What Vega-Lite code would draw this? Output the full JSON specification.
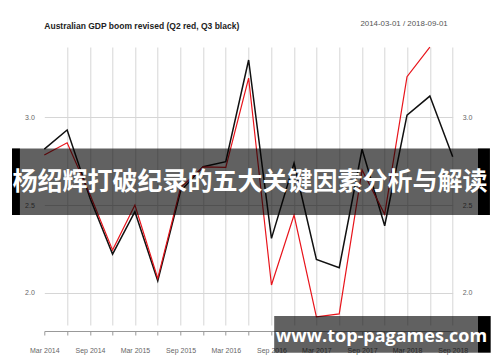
{
  "$schema": "https://vega.github.io/schema/vega-lite/v6.json",
  "width": 408.4,
  "height": 278,
  "autosize": {"type": "none"},
  "padding": {"left": 44.3, "top": 47, "right": 47.3, "bottom": 37},
  "background": "white",
  "config": {"view": {"stroke": null}, "font": "Liberation Sans"},
  "title": {
    "text": "Australian GDP boom revised (Q2 red, Q3 black)",
    "anchor": "start",
    "frame": "group",
    "fontSize": 8.5,
    "fontWeight": "bold",
    "color": "#222222",
    "offset": -10.5,
    "font": "Liberation Sans"
  },
  "data": {
    "values": [
      {"date": "2014-03-01", "q2": 2.785, "q3": 2.819},
      {"date": "2014-06-01", "q2": 2.855, "q3": 2.928},
      {"date": "2014-09-01", "q2": 2.56, "q3": 2.54},
      {"date": "2014-12-01", "q2": 2.243, "q3": 2.22},
      {"date": "2015-03-01", "q2": 2.5, "q3": 2.462},
      {"date": "2015-06-01", "q2": 2.082, "q3": 2.068},
      {"date": "2015-09-01", "q2": 2.6, "q3": 2.58},
      {"date": "2015-12-01", "q2": 2.718, "q3": 2.718},
      {"date": "2016-03-01", "q2": 2.715, "q3": 2.747},
      {"date": "2016-06-01", "q2": 3.224, "q3": 3.327},
      {"date": "2016-09-01", "q2": 2.044, "q3": 2.31},
      {"date": "2016-12-01", "q2": 2.443, "q3": 2.738},
      {"date": "2017-03-01", "q2": 1.863, "q3": 2.19},
      {"date": "2017-06-01", "q2": 1.879, "q3": 2.143},
      {"date": "2017-09-01", "q2": 2.7, "q3": 2.818},
      {"date": "2017-12-01", "q2": 2.447, "q3": 2.382},
      {"date": "2018-03-01", "q2": 3.232, "q3": 3.013},
      {"date": "2018-06-01", "q2": 3.4, "q3": 3.121},
      {"date": "2018-09-01", "q2": null, "q3": 2.775}
    ]
  },
  "layer": [
    {
      "mark": {"type": "line", "color": "#111111", "strokeWidth": 1.5},
      "encoding": {
        "x": {
          "field": "date", "type": "temporal",
          "scale": {"type": "utc", "domain": [{"year": 2014, "month": 3, "date": 1, "utc": true}, {"year": 2018, "month": 9, "date": 1, "utc": true}]},
          "axis": {
            "orient": "bottom", "offset": 6, "title": null,
            "values": [
              {"year": 2014, "month": 3, "date": 1, "utc": true}, {"year": 2014, "month": 6, "date": 1, "utc": true}, {"year": 2014, "month": 9, "date": 1, "utc": true}, {"year": 2014, "month": 12, "date": 1, "utc": true},
              {"year": 2015, "month": 3, "date": 1, "utc": true}, {"year": 2015, "month": 6, "date": 1, "utc": true}, {"year": 2015, "month": 9, "date": 1, "utc": true}, {"year": 2015, "month": 12, "date": 1, "utc": true},
              {"year": 2016, "month": 3, "date": 1, "utc": true}, {"year": 2016, "month": 6, "date": 1, "utc": true}, {"year": 2016, "month": 9, "date": 1, "utc": true}, {"year": 2016, "month": 12, "date": 1, "utc": true},
              {"year": 2017, "month": 3, "date": 1, "utc": true}, {"year": 2017, "month": 6, "date": 1, "utc": true}, {"year": 2017, "month": 9, "date": 1, "utc": true}, {"year": 2017, "month": 12, "date": 1, "utc": true},
              {"year": 2018, "month": 3, "date": 1, "utc": true}, {"year": 2018, "month": 6, "date": 1, "utc": true}, {"year": 2018, "month": 9, "date": 1, "utc": true}
            ],
            "labelExpr": "utcmonth(datum.value) % 6 == 2 ? utcFormat(datum.value, '%b %Y') : ''",
            "labelOverlap": false,
            "labelFlush": false,
            "labelFontSize": 7,
            "labelColor": "#666666",
            "labelFont": "Liberation Sans",
            "labelPadding": 11,
            "tickSize": 4,
            "tickColor": "#999999",
            "domainColor": "#999999",
            "grid": true,
            "gridColor": "#d6d6d6",
            "gridOpacity": {"condition": {"test": "utcyear(datum.value) == 2014 && utcmonth(datum.value) == 2", "value": 0}, "value": 1}
          }
        },
        "y": {
          "field": "q3", "type": "quantitative",
          "scale": {"domain": [1.816, 3.401], "nice": false, "zero": false},
          "axis": {
            "orient": "left", "title": null, "values": [2.0, 2.5, 3.0], "format": ".1f",
            "domain": false, "ticks": false, "labelPadding": 10,
            "labelFontSize": 7, "labelColor": "#666666", "labelFont": "Liberation Sans",
            "grid": true, "gridColor": "#d6d6d6"
          }
        }
      }
    },
    {
      "mark": {"type": "line", "color": "#e8141b", "strokeWidth": 1.2},
      "encoding": {
        "x": {
          "field": "date", "type": "temporal",
          "scale": {"type": "utc", "domain": [{"year": 2014, "month": 3, "date": 1, "utc": true}, {"year": 2018, "month": 9, "date": 1, "utc": true}]},
          "axis": null
        },
        "y": {
          "field": "q2", "type": "quantitative",
          "scale": {"domain": [1.816, 3.401], "nice": false, "zero": false},
          "axis": {
            "orient": "right", "title": null, "values": [2.0, 2.5, 3.0], "format": ".1f",
            "domain": false, "ticks": false, "labelPadding": 9.5,
            "labelFontSize": 7, "labelColor": "#666666", "labelFont": "Liberation Sans", "grid": false
          }
        }
      }
    },
    {
      "data": {"values": [{}]},
      "mark": {"type": "text", "text": "2014-03-01 / 2018-09-01", "font": "Liberation Sans", "fontSize": 7.9, "color": "#555555", "align": "right", "baseline": "middle", "dx": -5},
      "encoding": {
        "x": {"datum": {"year": 2018, "month": 9, "date": 1, "utc": true}, "type": "temporal", "axis": null, "scale": {"type": "utc", "domain": [{"year": 2014, "month": 3, "date": 1, "utc": true}, {"year": 2018, "month": 9, "date": 1, "utc": true}]}},
        "y": {"datum": 3.530, "type": "quantitative", "axis": null, "scale": {"domain": [1.816, 3.401], "nice": false, "zero": false}}
      }
    },
    {
      "data": {"values": [{}]},
      "mark": {"type": "rect", "color": "#000000", "opacity": 0.62},
      "encoding": {
        "x": {"datum": {"year": 2013, "month": 11, "date": 23, "utc": true}, "type": "temporal", "axis": null, "scale": {"type": "utc", "domain": [{"year": 2014, "month": 3, "date": 1, "utc": true}, {"year": 2018, "month": 9, "date": 1, "utc": true}]}},
        "x2": {"datum": {"year": 2018, "month": 12, "date": 12, "utc": true}},
        "y": {"datum": 2.823, "type": "quantitative", "axis": null, "scale": {"domain": [1.816, 3.401], "nice": false, "zero": false}},
        "y2": {"datum": 2.443}
      }
    },
    {
      "data": {"values": [{}]},
      "mark": {"type": "rect", "color": "#000000"},
      "encoding": {
        "x": {"datum": {"year": 2013, "month": 10, "date": 22, "utc": true}, "type": "temporal", "axis": null, "scale": {"type": "utc", "domain": [{"year": 2014, "month": 3, "date": 1, "utc": true}, {"year": 2018, "month": 9, "date": 1, "utc": true}]}},
        "x2": {"datum": {"year": 2013, "month": 11, "date": 23, "utc": true}},
        "y": {"datum": 2.823, "type": "quantitative", "axis": null, "scale": {"domain": [1.816, 3.401], "nice": false, "zero": false}},
        "y2": {"datum": 2.443}
      }
    },
    {
      "data": {"values": [{}]},
      "mark": {"type": "rect", "color": "#000000"},
      "encoding": {
        "x": {"datum": {"year": 2018, "month": 12, "date": 12, "utc": true}, "type": "temporal", "axis": null, "scale": {"type": "utc", "domain": [{"year": 2014, "month": 3, "date": 1, "utc": true}, {"year": 2018, "month": 9, "date": 1, "utc": true}]}},
        "x2": {"datum": {"year": 2019, "month": 1, "date": 29, "utc": true}},
        "y": {"datum": 2.823, "type": "quantitative", "axis": null, "scale": {"domain": [1.816, 3.401], "nice": false, "zero": false}},
        "y2": {"datum": 2.443}
      }
    },
    {
      "data": {"values": [{}]},
      "mark": {"type": "text", "text": "杨绍辉打破纪录的五大关键因素分析与解读", "font": "Noto Sans CJK SC", "fontWeight": "bold", "fontSize": 25, "color": "#ffffff", "align": "center", "baseline": "middle"},
      "encoding": {
        "x": {"datum": {"year": 2016, "month": 6, "date": 7, "utc": true}, "type": "temporal", "axis": null, "scale": {"type": "utc", "domain": [{"year": 2014, "month": 3, "date": 1, "utc": true}, {"year": 2018, "month": 9, "date": 1, "utc": true}]}},
        "y": {"datum": 2.631, "type": "quantitative", "axis": null, "scale": {"domain": [1.816, 3.401], "nice": false, "zero": false}}
      }
    },
    {
      "data": {"values": [{}]},
      "mark": {"type": "rect", "color": "#000000", "opacity": 0.62},
      "encoding": {
        "x": {"datum": {"year": 2016, "month": 9, "date": 12, "utc": true}, "type": "temporal", "axis": null, "scale": {"type": "utc", "domain": [{"year": 2014, "month": 3, "date": 1, "utc": true}, {"year": 2018, "month": 9, "date": 1, "utc": true}]}},
        "x2": {"datum": {"year": 2018, "month": 12, "date": 12, "utc": true}},
        "y": {"datum": 1.867, "type": "quantitative", "axis": null, "scale": {"domain": [1.816, 3.401], "nice": false, "zero": false}},
        "y2": {"datum": 1.658}
      }
    },
    {
      "data": {"values": [{}]},
      "mark": {"type": "rect", "color": "#000000"},
      "encoding": {
        "x": {"datum": {"year": 2018, "month": 12, "date": 12, "utc": true}, "type": "temporal", "axis": null, "scale": {"type": "utc", "domain": [{"year": 2014, "month": 3, "date": 1, "utc": true}, {"year": 2018, "month": 9, "date": 1, "utc": true}]}},
        "x2": {"datum": {"year": 2019, "month": 2, "date": 1, "utc": true}},
        "y": {"datum": 1.867, "type": "quantitative", "axis": null, "scale": {"domain": [1.816, 3.401], "nice": false, "zero": false}},
        "y2": {"datum": 1.658}
      }
    },
    {
      "data": {"values": [{}]},
      "mark": {"type": "text", "text": "www.top-pagames.com", "font": "Open Sans", "fontWeight": "bold", "fontSize": 18, "color": "#ffffff", "align": "center", "baseline": "middle"},
      "encoding": {
        "x": {"datum": {"year": 2017, "month": 11, "date": 18, "utc": true}, "type": "temporal", "axis": null, "scale": {"type": "utc", "domain": [{"year": 2014, "month": 3, "date": 1, "utc": true}, {"year": 2018, "month": 9, "date": 1, "utc": true}]}},
        "y": {"datum": 1.746, "type": "quantitative", "axis": null, "scale": {"domain": [1.816, 3.401], "nice": false, "zero": false}}
      }
    }
  ],
  "resolve": {"axis": {"x": "independent", "y": "independent"}}
}
